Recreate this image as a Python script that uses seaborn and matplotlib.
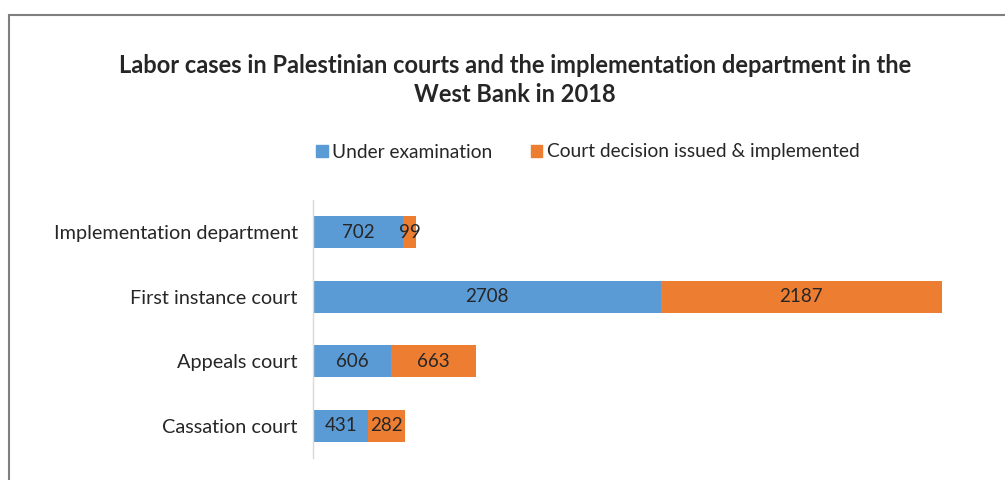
import numpy as np
import pandas as pd
import matplotlib
matplotlib.use("Agg")
import matplotlib.pyplot as plt
from matplotlib.patches import Patch, Rectangle
import seaborn as sns

# ========= DATA ==========
categories = ["Implementation department", "First instance court", "Appeals court", "Cassation court"]
under_exam = [702, 2708, 606, 431]
decided = [99, 2187, 663, 282]
series_names = ["Under examination", "Court decision issued & implemented"]

BLUE = "#5B9BD5"
ORANGE = "#ED7D31"
TXT = "#262626"

sns.set_theme(style="white")
plt.rcParams["font.family"] = ["Lato", "DejaVu Sans"]

df = pd.DataFrame({"category": categories, "under": under_exam, "decided": decided})
df["total"] = df["under"] + df["decided"]

fig = plt.figure(figsize=(10.05, 4.8), dpi=100)
ax = fig.add_axes([313 / 1005, 1 - 458 / 480, 642 / 1005, 258 / 480])

# stacked: total in orange underneath, blue on top
sns.barplot(data=df, y="category", x="total", color=ORANGE, saturation=1, width=0.5, linewidth=0, ax=ax)
sns.barplot(data=df, y="category", x="under", color=BLUE, saturation=1, width=0.5, linewidth=0, ax=ax)

for i, row in df.iterrows():
    ax.text(row["under"] / 2, i, f"{row['under']}", ha="center", va="center", fontsize=13.5, color=TXT)
    ax.text(row["under"] + row["decided"] / 2, i, f"{row['decided']}", ha="center", va="center",
            fontsize=13.5, color=TXT)

ax.set_xlim(0, 5000)
ax.set_ylim(3.5, -0.5)
ax.set_xlabel("")
ax.set_ylabel("")
ax.set_xticks([])
ax.tick_params(axis="y", length=0, pad=11, labelsize=14.3, labelcolor=TXT)
for s in ["top", "right", "bottom"]:
    ax.spines[s].set_visible(False)
ax.spines["left"].set_color("#D9D9D9")
ax.spines["left"].set_linewidth(1)

fig.text(515 / 1005, 1 - 80 / 480,
         "Labor cases in Palestinian courts and the implementation department in the\nWest Bank in 2018",
         ha="center", va="center", fontsize=17, fontweight="bold", color=TXT, linespacing=1.3)

handles = [Patch(color=BLUE, label=series_names[0]), Patch(color=ORANGE, label=series_names[1])]
fig.legend(handles=handles, loc="center", bbox_to_anchor=(588 / 1005, 1 - 152 / 480), ncol=2,
           frameon=False, fontsize=13.8, handlelength=0.6, handleheight=0.6, handletextpad=0.25,
           columnspacing=2.0, labelcolor=TXT)

# chart frame (cropped at right/bottom)
fig.patches.append(Rectangle((9 / 1005, -0.1), 1.2, 1 - 15 / 480 + 0.1, transform=fig.transFigure,
                             fill=False, edgecolor="#7F7F7F", linewidth=1.5))

fig.savefig("out.png", dpi=100)
